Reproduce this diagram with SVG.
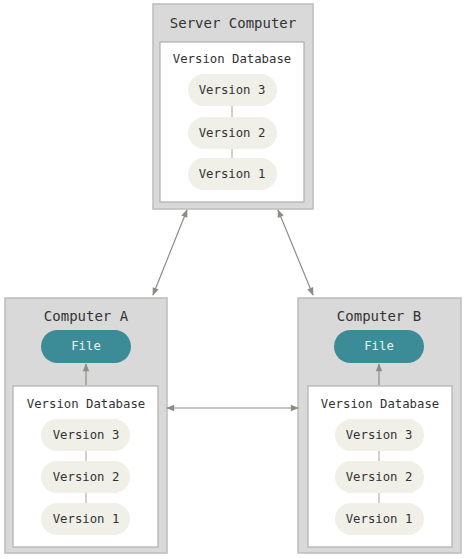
<svg xmlns="http://www.w3.org/2000/svg" width="465" height="559" viewBox="0 0 465 559">
<defs>
<marker id="ah" viewBox="0 0 10 10" refX="9" refY="5" markerWidth="10" markerHeight="8" orient="auto-start-reverse" markerUnits="userSpaceOnUse">
<path d="M0,1 L10,5 L0,9 z" fill="#8c8c86"/>
</marker>
<style>
.outer{fill:#d9d9d9;stroke:#bcbcbc;stroke-width:1.5}
.inner{fill:#ffffff;stroke:#b0b0b0;stroke-width:1.2}
.pill{fill:#f0efe8}
.file{fill:#3b8c96}
.t{font-family:"DejaVu Sans Mono","Liberation Mono",monospace;fill:#333333;text-anchor:middle;dominant-baseline:central}
.title{font-size:14px}
.lab{font-size:12.3px}
.ft{fill:#e6f3f4}
.link{stroke:#8c8c86;stroke-width:1.2;fill:none}
.tick{stroke:#a0a09a;stroke-width:1}
</style>
</defs>
<g id="server">
<rect class="outer" x="153" y="4" width="160" height="205"/>
<text class="t title" x="233" y="23">Server Computer</text>
<rect class="inner" x="160" y="42" width="144" height="160"/>
<text class="t lab" x="232" y="59">Version Database</text>
<line class="tick" x1="232" y1="106" x2="232" y2="117"/>
<line class="tick" x1="232" y1="149" x2="232" y2="158"/>
<rect class="pill" x="188" y="74" width="89" height="32" rx="16"/>
<text class="t lab" x="232" y="90">Version 3</text>
<rect class="pill" x="188" y="117" width="89" height="32" rx="16"/>
<text class="t lab" x="232" y="133">Version 2</text>
<rect class="pill" x="188" y="158" width="89" height="32" rx="16"/>
<text class="t lab" x="232" y="174">Version 1</text>
</g>
<g id="computerA">
<rect class="outer" x="5" y="298" width="162" height="255"/>
<text class="t title" x="86" y="316">Computer A</text>
<rect class="file" x="41" y="330" width="90" height="33" rx="16.5"/>
<text class="t lab ft" x="86" y="346">File</text>
<rect class="inner" x="13" y="386" width="145" height="161"/>
<text class="t lab" x="86" y="404">Version Database</text>
<line class="tick" x1="86" y1="451" x2="86" y2="461"/>
<line class="tick" x1="86" y1="493" x2="86" y2="503"/>
<rect class="pill" x="41" y="419" width="89" height="32" rx="16"/>
<text class="t lab" x="86" y="435">Version 3</text>
<rect class="pill" x="41" y="461" width="89" height="32" rx="16"/>
<text class="t lab" x="86" y="477">Version 2</text>
<rect class="pill" x="41" y="503" width="89" height="32" rx="16"/>
<text class="t lab" x="86" y="519">Version 1</text>
</g>
<g id="computerB">
<rect class="outer" x="298" y="298" width="163" height="255"/>
<text class="t title" x="379" y="316">Computer B</text>
<rect class="file" x="334" y="330" width="90" height="33" rx="16.5"/>
<text class="t lab ft" x="379" y="346">File</text>
<rect class="inner" x="308" y="386" width="144" height="161"/>
<text class="t lab" x="380" y="404">Version Database</text>
<line class="tick" x1="379" y1="451" x2="379" y2="461"/>
<line class="tick" x1="379" y1="493" x2="379" y2="503"/>
<rect class="pill" x="335" y="419" width="89" height="32" rx="16"/>
<text class="t lab" x="379" y="435">Version 3</text>
<rect class="pill" x="335" y="461" width="89" height="32" rx="16"/>
<text class="t lab" x="379" y="477">Version 2</text>
<rect class="pill" x="335" y="503" width="89" height="32" rx="16"/>
<text class="t lab" x="379" y="519">Version 1</text>
</g>
<g id="connectors">
<line class="link" x1="187" y1="210" x2="153" y2="295" marker-start="url(#ah)" marker-end="url(#ah)"/>
<line class="link" x1="278" y1="210" x2="313" y2="295" marker-start="url(#ah)" marker-end="url(#ah)"/>
<line class="link" x1="167" y1="408" x2="298" y2="408" marker-start="url(#ah)" marker-end="url(#ah)"/>
<line class="link" x1="86" y1="385" x2="86" y2="364" marker-end="url(#ah)"/>
<line class="link" x1="379" y1="385" x2="379" y2="364" marker-end="url(#ah)"/>
</g>
</svg>
